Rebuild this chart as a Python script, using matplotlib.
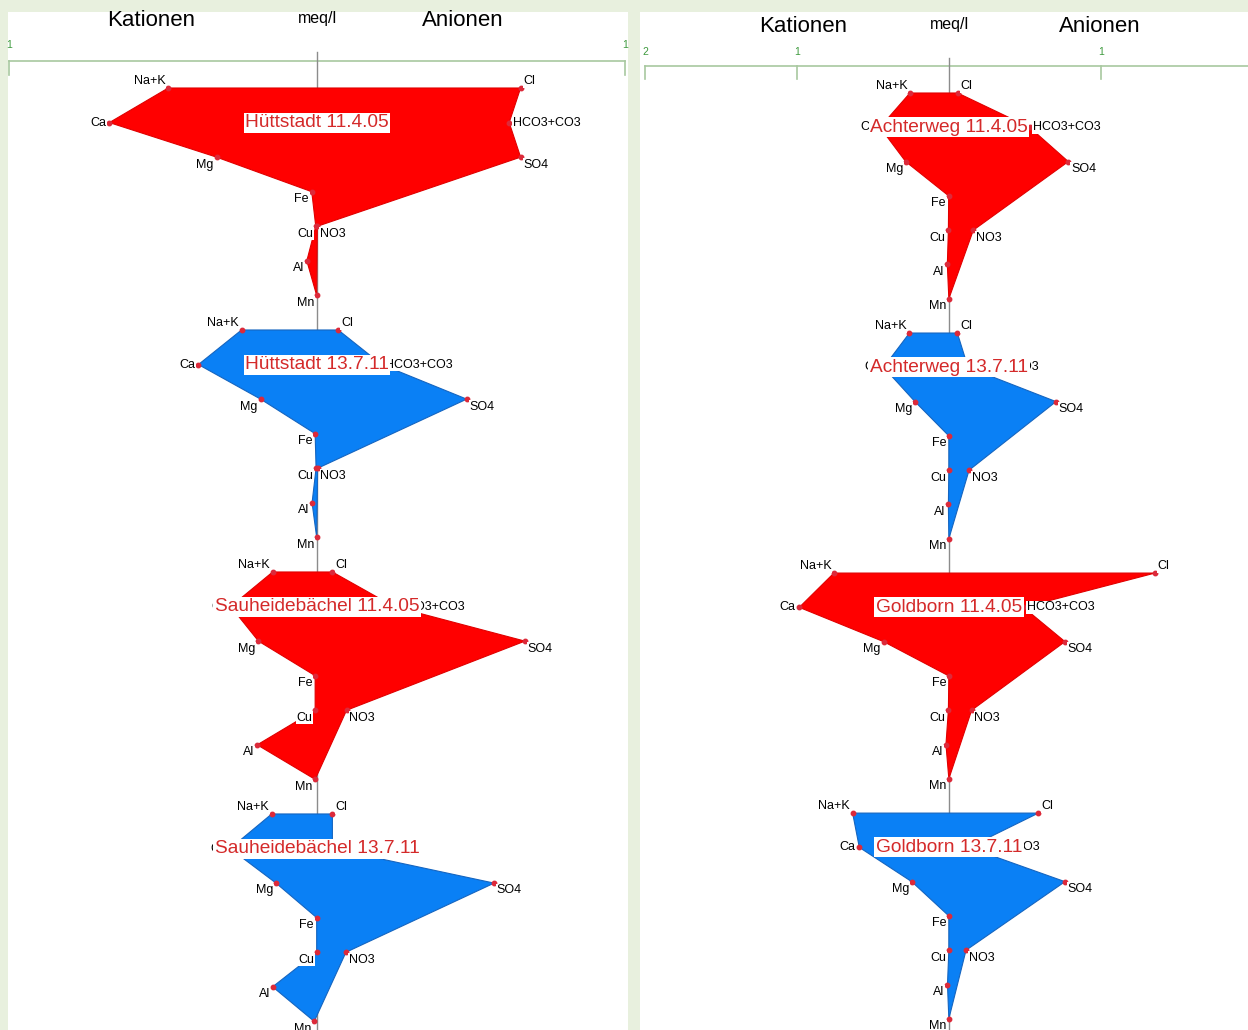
#Import required packages
import numpy as np
import matplotlib.pyplot as plt

plt.rcParams['font.family'] = ['Liberation Sans', 'DejaVu Sans']

#Ion names (cations top to bottom, anions top to bottom)
cations = ["Na+K", "Ca", "Mg", "Fe", "Cu", "Al", "Mn"]
anions = ["Cl", "HCO3+CO3", "SO4", "NO3"]
#Row of each anion (NO3 shares the Cu row)
anion_rows = [0, 1, 2, 4]

#Left panel samples (meq/l)
left_names = ["Hüttstadt 11.4.05", "Hüttstadt 13.7.11", "Sauheidebächel 11.4.05", "Sauheidebächel 13.7.11"]
left_cat = [
    [0.483, 0.674, 0.326, 0.017, 0.004, 0.033, 0.001],
    [0.245, 0.385, 0.183, 0.006, 0.003, 0.016, 0.001],
    [0.144, 0.280, 0.190, 0.006, 0.006, 0.194, 0.006],
    [0.147, 0.282, 0.133, 0.001, 0.001, 0.144, 0.009],
]
left_an = [
    [0.661, 0.624, 0.661, 0.001],
    [0.069, 0.210, 0.486, 0.002],
    [0.050, 0.250, 0.675, 0.096],
    [0.050, 0.050, 0.575, 0.094],
]

#Right panel samples (meq/l)
right_names = ["Achterweg 11.4.05", "Achterweg 13.7.11", "Goldborn 11.4.05", "Goldborn 13.7.11"]
right_cat = [
    [0.257, 0.454, 0.285, 0.002, 0.004, 0.011, 0.001],
    [0.260, 0.430, 0.224, 0.001, 0.001, 0.004, 0.001],
    [0.757, 0.985, 0.430, 0.001, 0.004, 0.020, 0.001],
    [0.634, 0.590, 0.245, 0.001, 0.001, 0.010, 0.001],
]
right_an = [
    [0.057, 0.530, 0.785, 0.160],
    [0.055, 0.125, 0.704, 0.132],
    [1.355, 0.490, 0.763, 0.149],
    [0.588, 0.130, 0.763, 0.112],
]

#Axis ticks (meq/l) for each panel
left_ticks = [-1, 1]
right_ticks = [-2, -1, 1]

fill_colors = ["#ff0000", "#0a80f5"]
edge_colors = ["#e00000", "#1565c0"]

fig = plt.figure(figsize=(12.48, 10.30), dpi=100, facecolor="#e8f0de")

ax_left = fig.add_axes([8 / 1248, 0, 620 / 1248, 1018 / 1030])
ax_right = fig.add_axes([640 / 1248, 0, 608 / 1248, 1018 / 1030])


def draw_panel(ax, names, cat, an, ticks, xlim, ylim, axis_y, tick_y, line_x, head_x):
    ax.set_facecolor("white")
    ax.set_xlim(xlim)
    ax.set_ylim(ylim)
    ax.set_xticks([])
    ax.set_yticks([])
    for s in ax.spines.values():
        s.set_visible(False)

    #Scale line with ticks
    ax.plot(line_x, [axis_y, axis_y], color="#a8c8a0", lw=1.2, zorder=1, clip_on=False)
    for t in ticks:
        ax.plot([t, t], [axis_y, axis_y + 0.4], color="#a8c8a0", lw=1.2, zorder=1)
        ax.text(t, tick_y, str(abs(t)), color="#3d9a3d", fontsize=7.5, ha="center", va="center")

    #Centre line
    ax.plot([0, 0], [-1.03, ylim[0]], color="#8c8c8c", lw=1, zorder=1)

    #Headers
    ax.text(head_x[0], -1.94, "Kationen", fontsize=16, ha="center", va="center")
    ax.text(0, -2.0, "meq/l", fontsize=11.5, ha="center", va="center")
    ax.text(head_x[1], -1.94, "Anionen", fontsize=16, ha="center", va="center")

    for k in range(len(names)):
        base = 7 * k
        cy = base + np.arange(len(cations))
        ay = base + np.array(anion_rows)
        cx = -np.array(cat[k])
        axn = np.array(an[k])

        #Polygon: cations down, then anions back up
        px = np.concatenate([cx, axn[::-1]])
        py = np.concatenate([cy, ay[::-1]])
        ax.fill(px, py, color=fill_colors[k % 2], ec=edge_colors[k % 2], lw=0.8, zorder=2)
        ax.plot(cx, cy, "o", color="#dc2a3a", ms=3.2, zorder=3)
        ax.plot(axn, ay, "o", color="#dc2a3a", ms=3.2, zorder=3)

        #Ion labels
        box = dict(boxstyle="square,pad=0.05", fc="white", ec="none")
        for i, name in enumerate(cations):
            if i == 0:
                va, off = "bottom", (-2, 0.5)
            elif i == 1:
                va, off = "center", (-2.5, 0)
            else:
                va, off = "top", (-2, -1)
            ax.annotate(name, (cx[i], cy[i]), xytext=off, textcoords="offset points",
                        ha="right", va=va, fontsize=9, bbox=box, zorder=4)
        for i, name in enumerate(anions):
            if i == 0:
                va, off = "bottom", (2, 0.5)
            elif i == 1:
                va, off = "center", (2.5, 0)
            else:
                va, off = "top", (2, -1)
            ax.annotate(name, (axn[i], ay[i]), xytext=off, textcoords="offset points",
                        ha="left", va=va, fontsize=9, bbox=box, zorder=4)

        #Sample name
        ax.text(0, base + 1, names[k], color="#d42a2a", fontsize=13.8, ha="center", va="center",
                bbox=dict(boxstyle="square,pad=0.08", fc="white", ec="none"), zorder=5)


draw_panel(ax_left, left_names, left_cat, left_an, left_ticks,
           ((8 - 317) / 308, (628 - 317) / 308), ((1030 - 88) / 34.57, (12 - 88) / 34.57),
           -0.767, -1.244, [-1, 1], [-0.539, 0.474])
draw_panel(ax_right, right_names, right_cat, right_an, right_ticks,
           ((640 - 949) / 152, (1248 - 949) / 152), ((1030 - 93) / 34.29, (12 - 93) / 34.29),
           -0.80, -1.196, [-2, 2], [-0.96, 0.99])

plt.savefig("out.png", dpi=100, facecolor=fig.get_facecolor())
